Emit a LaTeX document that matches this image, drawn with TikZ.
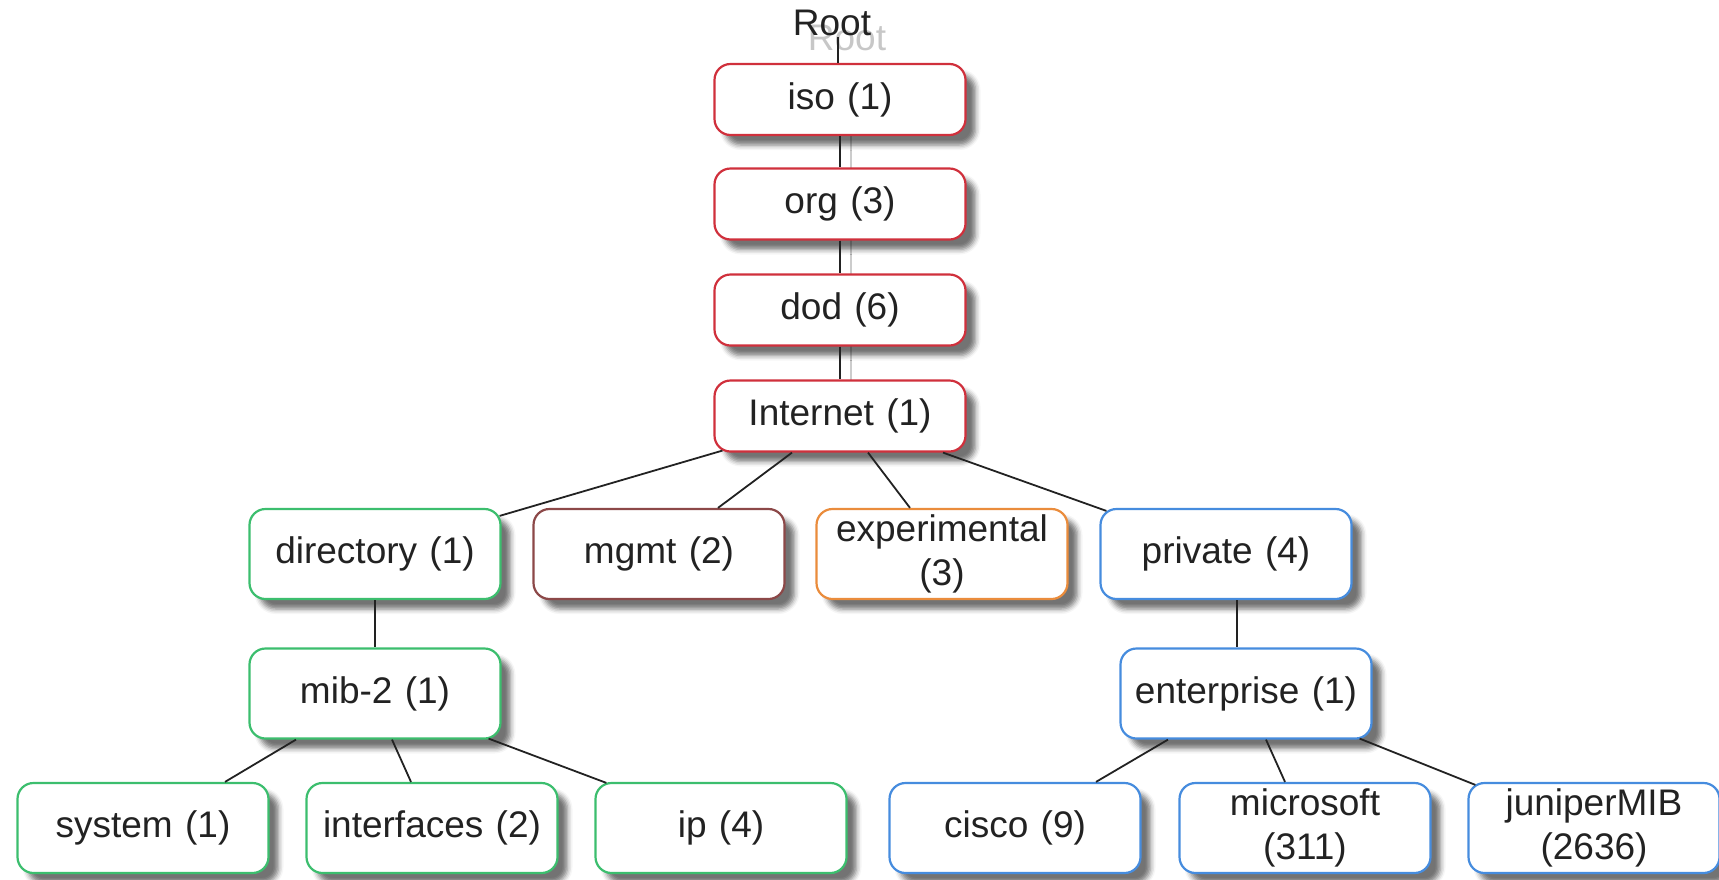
\documentclass[tikz,border=0pt]{standalone}
\usepackage{fontspec}
\setmainfont{Liberation Sans}
\usetikzlibrary{shadows.blur,calc}
\definecolor{cred}{RGB}{208,48,60}
\definecolor{cgreen}{RGB}{60,190,110}
\definecolor{cbrown}{RGB}{140,72,72}
\definecolor{corange}{RGB}{234,140,60}
\definecolor{cblue}{RGB}{70,140,222}
\definecolor{txt}{RGB}{34,34,34}
\begin{document}
\begin{tikzpicture}[x=0.5pt,y=-0.5pt,
  box/.style={draw, line width=1.1pt, rounded corners=8pt, fill=white,
    text width=120pt, align=center, minimum width=125.5pt, inner sep=0pt,
    font=\fontsize{18.5}{22}\selectfont, text=txt,
    blur shadow={shadow xshift=5pt, shadow yshift=-5pt, shadow blur radius=2.5pt, shadow opacity=55}},
  redbox/.style={box, draw=cred, minimum height=35.5pt},
  greenbox/.style={box, draw=cgreen, minimum height=45pt},
  brownbox/.style={box, draw=cbrown, minimum height=45pt},
  orangebox/.style={box, draw=corange, minimum height=45pt},
  bluebox/.style={box, draw=cblue, minimum height=45pt},
  conn/.style={draw=txt, line width=0.9pt},
  shadowline/.style={draw=black!20, line width=0.9pt},
  roottext/.style={inner sep=0pt, font=\fontsize{18.5}{22}\selectfont}]
\useasboundingbox (0,0) rectangle (1719,879);
% Root label with faint ghost
\node[roottext, text=black!22] (rootghost) at (847,38) {Root};
\node[roottext, text=txt] (root) at (832,23) {Root};
% shadow lines of the trunk
\draw[shadowline] (851,135) -- (851,168) (851,240) -- (851,274) (851,346) -- (851,380);
% red trunk
\node[redbox] (iso) at (840,99.5) {iso (1)};
\node[redbox] (org) at (840,204) {org (3)};
\node[redbox] (dod) at (840,310) {dod (6)};
\node[redbox] (internet) at (840,416) {Internet (1)};
% second row
\node[greenbox] (directory) at (375,554) {directory (1)};
\node[brownbox] (mgmt) at (659,554) {mgmt (2)};
\node[orangebox] (experimental) at (942,554) {experimental\\(3)};
\node[bluebox] (private) at (1226,554) {private (4)};
% third row
\node[greenbox] (mib) at (375,693.5) {mib-2 (1)};
\node[bluebox] (enterprise) at (1246,693.5) {enterprise (1)};
% fourth row
\node[greenbox] (system) at (143,828) {system (1)};
\node[greenbox] (interfaces) at (432,828) {interfaces (2)};
\node[greenbox] (ip) at (721,828) {ip (4)};
\node[bluebox] (cisco) at (1015,828) {cisco (9)};
\node[bluebox] (microsoft) at (1305,828) {microsoft\\(311)};
\node[bluebox] (juniper) at (1594,828) {juniperMIB\\(2636)};
% connectors
\draw[conn] ($(root.south)+(6,1)$) -- ($(iso.north)+(-2,0)$);
\draw[conn] (iso.south) -- (org.north);
\draw[conn] (org.south) -- (dod.north);
\draw[conn] (dod.south) -- (internet.north);
\draw[conn] ($(internet.south west)+(9,-2)$) -- ($(directory.north east)+(-2,8)$);
\draw[conn] ($(internet.south)+(-48,0)$) -- ($(mgmt.north)+(59,0)$);
\draw[conn] ($(internet.south)+(28,0)$) -- ($(experimental.north)+(-32,0)$);
\draw[conn] ($(internet.south)+(103,0)$) -- ($(private.north west)+(7,3)$);
\draw[conn] (directory.south) -- (mib.north);
\draw[conn] ($(private.south)+(11,0)$) -- ($(enterprise.north)+(-9,0)$);
\draw[conn] ($(mib.south)+(-79,0)$) -- ($(system.north)+(82,0)$);
\draw[conn] ($(mib.south)+(17,0)$) -- ($(interfaces.north)+(-21,0)$);
\draw[conn] ($(mib.south east)+(-13,-1)$) -- ($(ip.north west)+(12,1)$);
\draw[conn] ($(enterprise.south)+(-78,0)$) -- ($(cisco.north)+(81,0)$);
\draw[conn] ($(enterprise.south)+(20,0)$) -- ($(microsoft.north)+(-20,0)$);
\draw[conn] ($(enterprise.south east)+(-13,-1)$) -- ($(juniper.north west)+(8,3)$);
\end{tikzpicture}
\end{document}
